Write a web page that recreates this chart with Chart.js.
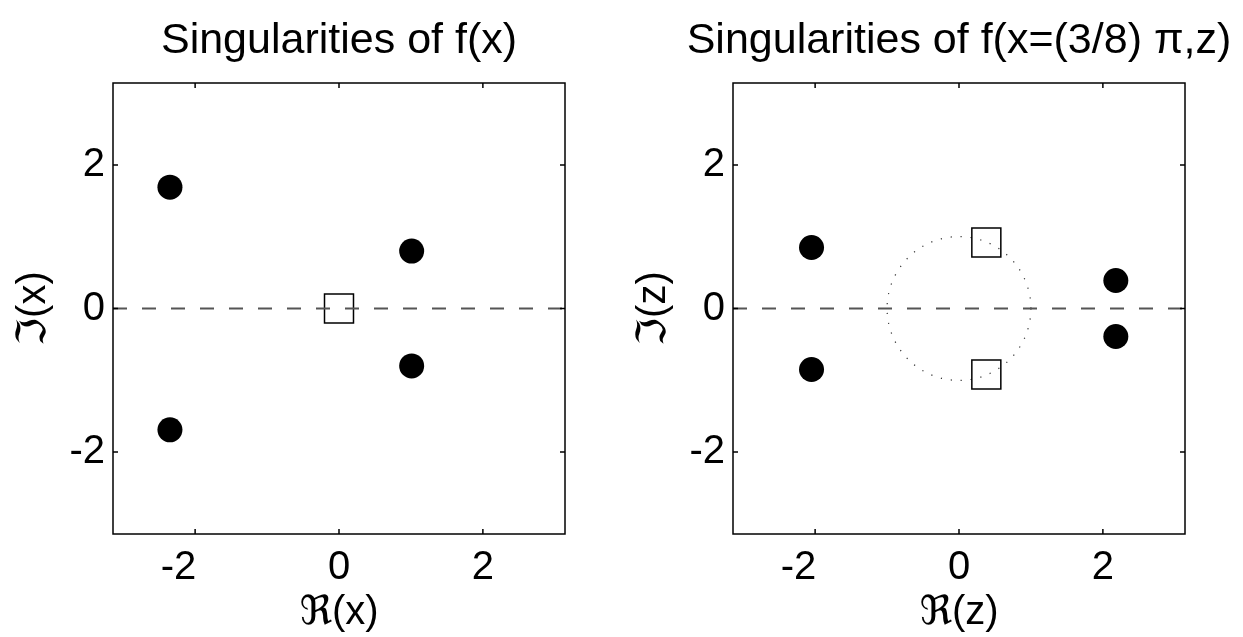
<!DOCTYPE html>
<html>
<head>
<meta charset="utf-8">
<script src="https://cdn.jsdelivr.net/npm/chart.js@4"></script>
<style>
    html, body { margin: 0; padding: 0; background: #fff; overflow: hidden; width: 1243px; height: 637px; }
    .panel { position: absolute; top: 0; height: 637px; width: 678px; }
</style>
</head>
<body>
<div class="panel" style="left:0;"><canvas id="chart-left"></canvas></div>
<div class="panel" style="left:620px;"><canvas id="chart-right"></canvas></div>
<script>
const axisMin = -Math.PI;
const axisMax = Math.PI;
const tickValues = [-2, 0, 2];

// left panel: f(x)
const leftPolesX = [-2.35, -2.35, 1.01, 1.01];
const leftPolesY = [1.69, -1.69, 0.80, -0.80];
const leftSquaresX = [0];
const leftSquaresY = [0];

// right panel: f(x=(3/8) pi, z)
const rightPolesX = [-2.05, -2.05, 2.18, 2.18];
const rightPolesY = [0.85, -0.85, 0.39, -0.39];
const rightSquaresX = [0.38, 0.38];
const rightSquaresY = [0.92, -0.92];
const rightCircle = { cx: 0, cy: 0, r: 1 };

const fontFamily = "'Liberation Sans', 'DejaVu Sans', sans-serif";

const toPoints = (xs, ys) => xs.map((x, i) => ({ x: x, y: ys[i] }));

// box, inward ticks and the dotted circle
const framePlugin = {
    id: 'frame',
    beforeDatasetsDraw(chart, args, opts) {
        if (!opts.circle) return;
        const { ctx, scales: { x, y } } = chart;
        const c = opts.circle;
        const px = x.getPixelForValue(c.cx);
        const py = y.getPixelForValue(c.cy);
        const rad = x.getPixelForValue(c.cx + c.r) - px;
        ctx.save();
        ctx.strokeStyle = '#333';
        ctx.lineWidth = 1.2;
        ctx.setLineDash([1.2, 8.8]);
        ctx.beginPath();
        ctx.arc(px, py, rad, 0, Math.PI * 2);
        ctx.stroke();
        ctx.restore();
    },
    afterDatasetsDraw(chart) {
        const { ctx, chartArea: a, scales: { x, y } } = chart;
        ctx.save();
        ctx.strokeStyle = '#000';
        ctx.lineWidth = 1.5;
        ctx.setLineDash([]);
        ctx.beginPath();
        x.ticks.forEach(t => {
            const px = x.getPixelForValue(t.value);
            ctx.moveTo(px, a.bottom); ctx.lineTo(px, a.bottom - 5);
            ctx.moveTo(px, a.top); ctx.lineTo(px, a.top + 5);
        });
        y.ticks.forEach(t => {
            const py = y.getPixelForValue(t.value);
            ctx.moveTo(a.left, py); ctx.lineTo(a.left + 5, py);
            ctx.moveTo(a.right, py); ctx.lineTo(a.right - 5, py);
        });
        ctx.stroke();
        ctx.strokeRect(a.left, a.top, a.right - a.left, a.bottom - a.top);
        ctx.restore();
    }
};

function makeAxis(titleText, horizontal) {
    return {
        type: 'linear',
        min: axisMin,
        max: axisMax,
        afterBuildTicks: scale => { scale.ticks = tickValues.map(v => ({ value: v })); },
        afterFit: scale => {
            if (horizontal) scale.height = 103;
            else scale.width = 113;
        },
        grid: { display: false, drawTicks: false },
        border: { display: false },
        ticks: {
            color: '#000',
            font: { family: fontFamily, size: 40 },
            padding: horizontal ? 10 : 8,
            maxRotation: 0,
            // negative labels sit left of their tick on the x axis
            callback: v => (horizontal && v < 0) ? String(v) + '   ' : String(v)
        },
        title: {
            display: true,
            text: titleText,
            color: '#000',
            font: { family: fontFamily, size: 40 },
            padding: horizontal ? { top: 0, bottom: 0 } : { top: 10, bottom: 0 }
        }
    };
}

// empty right-hand axis so the plot box sits centred under the full-width title
const spacerAxis = {
    position: 'right',
    afterFit: scale => { scale.width = 113; },
    grid: { display: false, drawTicks: false },
    border: { display: false },
    ticks: { display: false }
};

function makeChart(canvasId, title, poles, squares, xTitle, yTitle, circle) {
    return new Chart(document.getElementById(canvasId), {
        type: 'scatter',
        data: {
            datasets: [
                {
                    type: 'line',
                    data: [{ x: axisMin, y: 0 }, { x: axisMax, y: 0 }],
                    borderColor: '#555',
                    borderWidth: 2,
                    borderDash: [14, 15],
                    pointRadius: 0
                },
                {
                    data: poles,
                    backgroundColor: '#000',
                    borderColor: '#000',
                    borderWidth: 0,
                    pointRadius: 12.5
                },
                {
                    data: squares,
                    pointStyle: 'rect',
                    backgroundColor: 'rgba(0,0,0,0)',
                    borderColor: '#000',
                    borderWidth: 1.5,
                    pointRadius: 20.5
                }
            ]
        },
        options: {
            responsive: true,
            maintainAspectRatio: false,
            animation: false,
            layout: { padding: 0 },
            scales: {
                x: makeAxis(xTitle, true),
                y: makeAxis(yTitle, false),
                spacer: spacerAxis
            },
            plugins: {
                legend: { display: false },
                tooltip: { enabled: false },
                title: {
                    display: true,
                    text: title,
                    color: '#000',
                    font: { family: fontFamily, size: 43, weight: 'normal' },
                    padding: { top: 15, bottom: 16.4 }
                },
                frame: { circle: circle }
            }
        },
        plugins: [framePlugin]
    });
}

makeChart('chart-left', 'Singularities of f(x)',
    toPoints(leftPolesX, leftPolesY), toPoints(leftSquaresX, leftSquaresY),
    'ℜ(x)', 'ℑ(x)', null);

makeChart('chart-right', 'Singularities of f(x=(3/8) π,z)',
    toPoints(rightPolesX, rightPolesY), toPoints(rightSquaresX, rightSquaresY),
    'ℜ(z)', 'ℑ(z)', rightCircle);
</script>
</body>
</html>
